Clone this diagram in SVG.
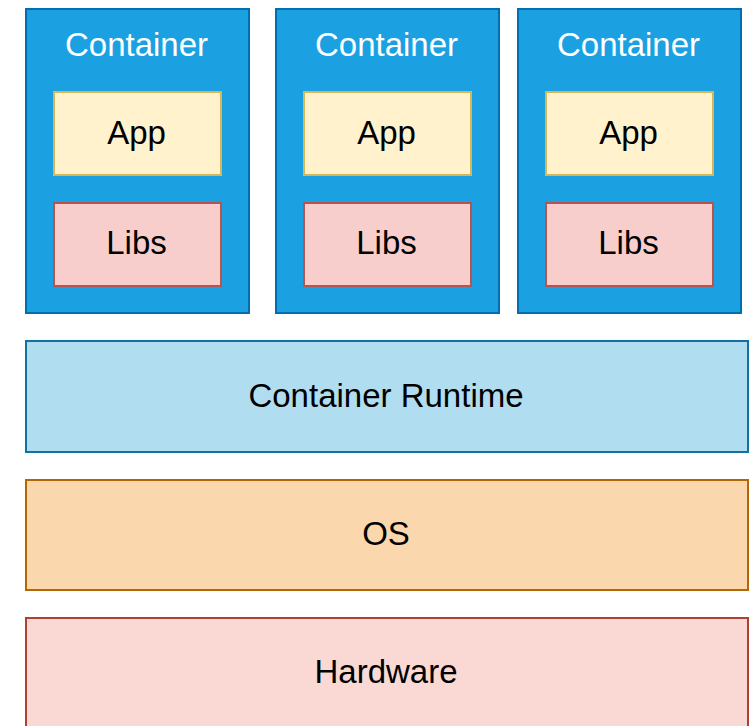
<svg xmlns="http://www.w3.org/2000/svg" width="751" height="726" viewBox="0 0 751 726">
  <style>
    text { font-family: "Liberation Sans", Arial, sans-serif; font-size: 33px; text-anchor: middle; dominant-baseline: central; }
    .container { fill: #1ba1e2; stroke: #006eaf; stroke-width: 2; }
    .container-label { fill: #ffffff; }
    .app { fill: #fff2cc; stroke: #d6b656; stroke-width: 2; }
    .libs { fill: #f8cecc; stroke: #b85450; stroke-width: 2; }
    .runtime { fill: #b1ddf0; stroke: #10739e; stroke-width: 2; }
    .os { fill: #fad7ac; stroke: #b46504; stroke-width: 2; }
    .hardware { fill: #fad9d5; stroke: #ae4132; stroke-width: 2; }
    .dark { fill: #000000; }
  </style>
  <rect width="751" height="726" fill="#ffffff"/>

  <g id="container-1">
    <rect class="container" x="26" y="9" width="223" height="304"/>
    <text class="container-label" x="136.5" y="44">Container</text>
    <g id="app-1">
      <rect class="app" x="54" y="92" width="167" height="83"/>
      <text class="dark" x="136.5" y="132">App</text>
    </g>
    <g id="libs-1">
      <rect class="libs" x="54" y="203" width="167" height="83"/>
      <text class="dark" x="136.5" y="242.5">Libs</text>
    </g>
  </g>

  <g id="container-2">
    <rect class="container" x="276" y="9" width="223" height="304"/>
    <text class="container-label" x="386.5" y="44">Container</text>
    <g id="app-2">
      <rect class="app" x="304" y="92" width="167" height="83"/>
      <text class="dark" x="386.5" y="132">App</text>
    </g>
    <g id="libs-2">
      <rect class="libs" x="304" y="203" width="167" height="83"/>
      <text class="dark" x="386.5" y="242.5">Libs</text>
    </g>
  </g>

  <g id="container-3">
    <rect class="container" x="518" y="9" width="223" height="304"/>
    <text class="container-label" x="628.5" y="44">Container</text>
    <g id="app-3">
      <rect class="app" x="546" y="92" width="167" height="83"/>
      <text class="dark" x="628.5" y="132">App</text>
    </g>
    <g id="libs-3">
      <rect class="libs" x="546" y="203" width="167" height="83"/>
      <text class="dark" x="628.5" y="242.5">Libs</text>
    </g>
  </g>

  <g id="container-runtime">
    <rect class="runtime" x="26" y="341" width="722" height="111"/>
    <text class="dark" x="386" y="395">Container Runtime</text>
  </g>

  <g id="os">
    <rect class="os" x="26" y="480" width="722" height="110"/>
    <text class="dark" x="386" y="533.5">OS</text>
  </g>

  <g id="hardware">
    <rect class="hardware" x="26" y="618" width="722" height="120"/>
    <text class="dark" x="386" y="671.5">Hardware</text>
  </g>

  <g id="connectors"/>
</svg>
